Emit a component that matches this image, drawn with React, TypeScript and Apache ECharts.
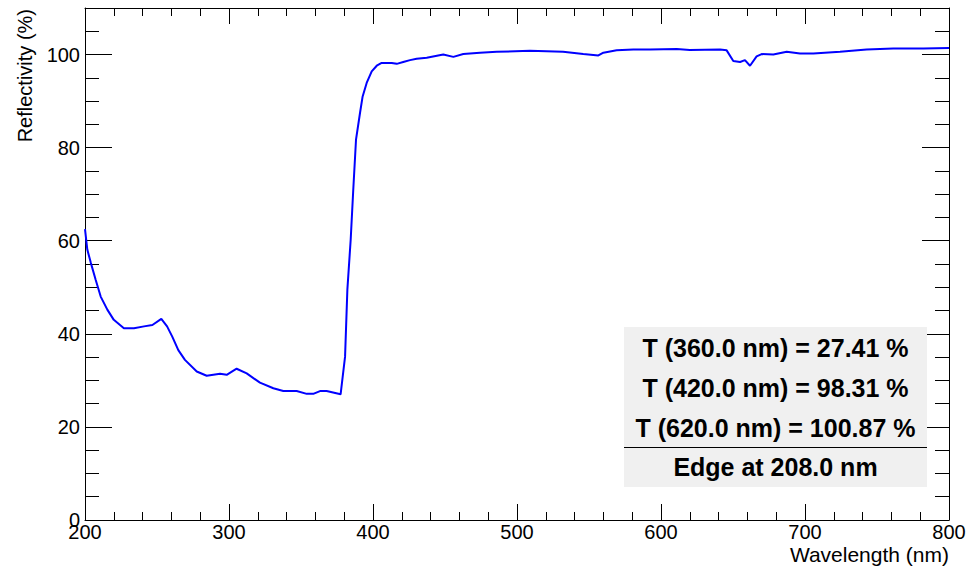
import React, { useEffect, useRef } from "react";
import * as echarts from "echarts";

const wavelengths = [
  200, 201.6, 204, 207.4, 210.9, 215.5, 220, 227, 234, 241, 246.8, 253, 257, 260.6, 264.8,
  269.4, 277.6, 284.5, 293.8, 298.4, 305.3, 312.3, 321.5, 330.8, 337.7, 347, 354, 358.5,
  363.2, 367.8, 377.5, 380.6, 382.2, 384.5, 386.3, 388.2, 391, 392.8, 395.6, 399.1, 402.6,
  406, 413, 416.5, 421, 425.7, 430.3, 437.3, 448.8, 455.8, 462.7, 474.3, 485.9, 509, 532,
  546, 556.5, 560, 569.2, 580.8, 592.4, 610.9, 620, 641, 645.6, 650.2, 654.9, 658.3, 661.8,
  666.4, 669.9, 678, 687.3, 696.5, 705.8, 724.3, 742.8, 761.3, 782.2, 800,
];
const reflectivity = [
  62.5, 58.1, 55.3, 51.6, 48.0, 45.2, 43.0, 41.2, 41.2, 41.6, 41.9, 43.2, 41.6, 39.4, 36.5,
  34.4, 31.9, 31.0, 31.4, 31.2, 32.5, 31.5, 29.5, 28.3, 27.7, 27.7, 27.1, 27.1,
  27.7, 27.7, 27.0, 35.1, 49.5, 60.2, 71.0, 81.7, 87.5, 91.0, 93.9, 96.4, 97.6,
  98.2, 98.2, 98.0, 98.4, 98.8, 99.1, 99.3, 100.0, 99.5, 100.1, 100.4, 100.6, 100.8, 100.6,
  100.1, 99.8, 100.4, 100.9, 101.1, 101.1, 101.2, 101.0, 101.1, 100.9, 98.6, 98.4, 98.8, 97.6,
  99.6, 100.1, 100.0, 100.6, 100.2, 100.2, 100.6, 101.1, 101.3, 101.3, 101.4,
];
const annotations = [
  "T (360.0 nm) = 27.41 %",
  "T (420.0 nm) = 98.31 %",
  "T (620.0 nm) = 100.87 %",
];
const edgeText = "Edge at 208.0 nm";
const xTitle = "Wavelength (nm)";
const yTitle = "Reflectivity (%)";

const FONT = "Liberation Sans";

export default function App() {
  const ref = useRef<HTMLDivElement>(null);
  useEffect(() => {
    if (!ref.current) return;
    const chart = echarts.init(ref.current, undefined, { renderer: "svg" });
    const tickCommon = (len: number, minorLen: number, split: number) => ({
      axisTick: { show: true, inside: true, length: len, lineStyle: { color: "#000", width: 1 } },
      minorTick: { show: true, splitNumber: split, length: minorLen, lineStyle: { color: "#000", width: 1 } },
      axisLine: { show: true, onZero: false, lineStyle: { color: "#000", width: 1 } },
      splitLine: { show: false },
      minorSplitLine: { show: false },
    });
    const labelStyle = { color: "#000", fontFamily: FONT, fontSize: 20 };
    chart.setOption({
      animation: false,
      backgroundColor: "#fff",
      grid: { left: 85, top: 8, right: 23, bottom: 47, containLabel: false },
      xAxis: [
        {
          type: "value", min: 200, max: 800, interval: 100, position: "bottom",
          ...tickCommon(16, 8, 5),
          axisLabel: { ...labelStyle, margin: 2 },
        },
        {
          type: "value", min: 200, max: 800, interval: 100, position: "top",
          ...tickCommon(16, 8, 5),
          axisLabel: { show: false },
        },
      ],
      yAxis: [
        {
          type: "value", min: 0, max: 110, interval: 20, position: "left",
          ...tickCommon(27, 14, 4),
          axisLabel: { ...labelStyle, margin: 5, formatter: (v: number) => (v > 100 ? "" : String(v)) },
        },
        {
          type: "value", min: 0, max: 110, interval: 20, position: "right",
          ...tickCommon(27, 14, 4),
          axisLabel: { show: false },
        },
      ],
      series: [
        {
          type: "line",
          xAxisIndex: 0,
          yAxisIndex: 0,
          data: wavelengths.map((w, i) => [w, reflectivity[i]]),
          showSymbol: false,
          symbol: "none",
          lineStyle: { color: "#0000ff", width: 2 },
          z: 3,
        },
      ],
      graphic: [
        {
          type: "text",
          x: 25,
          y: 9,
          rotation: Math.PI / 2,
          style: { text: yTitle, fill: "#000", font: `20px "${FONT}"`, align: "right", verticalAlign: "middle" },
        },
        {
          type: "text",
          x: 949,
          y: 554.5,
          style: { text: xTitle, fill: "#000", font: `21px "${FONT}"`, align: "right", verticalAlign: "middle" },
        },
        {
          type: "rect",
          shape: { x: 624, y: 327, width: 303, height: 160 },
          style: { fill: "#f0f0f0" },
          z: 10,
        },
        {
          type: "line",
          shape: { x1: 624, y1: 447.5, x2: 927, y2: 447.5 },
          style: { stroke: "#000", lineWidth: 1 },
          z: 11,
        },
        ...annotations.map((t, i) => ({
          type: "text",
          x: 775.5,
          y: 348 + i * 39.8,
          z: 12,
          style: { text: t, fill: "#000", font: `bold 25px "${FONT}"`, align: "center", verticalAlign: "middle" },
        })),
        {
          type: "text",
          x: 775.5,
          y: 467,
          z: 12,
          style: { text: edgeText, fill: "#000", font: `bold 25px "${FONT}"`, align: "center", verticalAlign: "middle" },
        },
      ],
    });
    return () => chart.dispose();
  }, []);
  return <div ref={ref} style={{ position: "fixed", left: 0, top: 0, width: 972, height: 567 }} />;
}
